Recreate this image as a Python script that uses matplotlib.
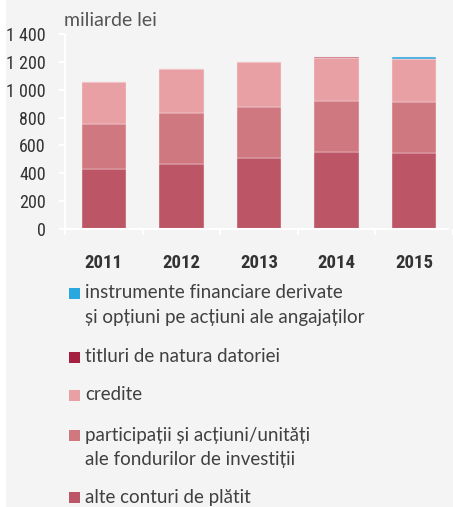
import numpy as np
import matplotlib.pyplot as plt
from matplotlib.patches import Rectangle

years = ["2011", "2012", "2013", "2014", "2015"]
alte_conturi = [430, 469, 512, 553, 548]
participatii = [324, 365, 367, 367, 362]
credite = [298, 314, 317, 310, 312]
titluri = [3, 2, 2, 2, 2]
derivate = [0, 0, 0, 0, 9]

series = [alte_conturi, participatii, credite, titluri, derivate]
colors = ["#bc5566", "#d07880", "#e8a0a5", "#a52040", "#29a8e0"]
labels = ["alte conturi de plătit",
          "participații și acțiuni/unități\nale fondurilor de investiții",
          "credite",
          "titluri de natura datoriei",
          "instrumente financiare derivate\nși opțiuni pe acțiuni ale angajaților"]
yticks = [0, 200, 400, 600, 800, 1000, 1200, 1400]
ytick_labels = ["0", "200", "400", "600", "800", "1 000", "1 200", "1 400"]

W, H = 453, 507
bg = "#f4f4f4"
txt = "#333333"
num_font = ["DejaVu Sans Condensed", "Liberation Sans Narrow",
            "Roboto Condensed", "Open Sans Condensed", "Lato"]
lab_font = ["Lato", "DejaVu Sans"]
px = 72 / 100  # points per pixel

fig = plt.figure(figsize=(W / 100, H / 100), dpi=100, facecolor="white")
fig.patches.append(Rectangle((6 / W, 0), 1, 1, transform=fig.transFigure,
                             facecolor=bg, edgecolor="none", zorder=-10))

ax = fig.add_axes([65 / W, 1 - 229 / H, 1 - 65 / W, (229 - 34) / H])
ax.set_facecolor(bg)

x = np.arange(len(years))
bottom = np.zeros(len(years))
for vals, c in zip(series, colors):
    ax.bar(x, vals, 0.57, bottom=bottom, color=c, edgecolor="#f8e8ea",
           linewidth=0.3, zorder=2)
    bottom += np.array(vals)

ax.set_ylim(0, 1400)
ax.set_xlim(-0.5, 4.43)
ax.set_yticks(yticks)
ax.set_yticklabels(ytick_labels, family=num_font, fontsize=13, color=txt,
                   stretch="condensed")
ax.set_xticks(x)
ax.set_xticklabels(years, family=num_font, fontsize=13.5, color=txt,
                   fontweight="bold", stretch="condensed")
ax.set_xticks(np.arange(-0.5, 5, 1), minor=True)
ax.tick_params(axis="x", which="major", length=0, pad=25 * px)
ax.tick_params(axis="x", which="minor", length=6 * px, width=1.5,
               color="white", direction="out")
ax.tick_params(axis="y", length=6 * px, width=1.5, color="white",
               pad=13 * px)

for s in ["top", "right"]:
    ax.spines[s].set_visible(False)
for s in ["left", "bottom"]:
    ax.spines[s].set_color("white")
    ax.spines[s].set_linewidth(1.5)
ax.spines["bottom"].set_bounds(-0.57, 4.43)

fig.text(64 / W, 1 - 21 / H, "miliarde lei", family=lab_font, fontsize=14,
         color="#555555", va="center", ha="left")

# legend, top to bottom
leg_y = [293, 357, 395, 435, 497]
for i, (lab, c) in enumerate(zip(labels[::-1], colors[::-1])):
    y0 = leg_y[i]
    fig.patches.append(Rectangle((69 / W, 1 - (y0 + 6) / H), 11 / W, 11 / H,
                                 transform=fig.transFigure, facecolor=c,
                                 edgecolor="none"))
    for j, line in enumerate(lab.split("\n")):
        fig.text(85 / W, 1 - (y0 + 25 * j) / H, line, family=lab_font,
                 fontsize=13.5, color="#404040", va="center", ha="left")

fig.savefig("out.png", dpi=100, facecolor=fig.get_facecolor())
